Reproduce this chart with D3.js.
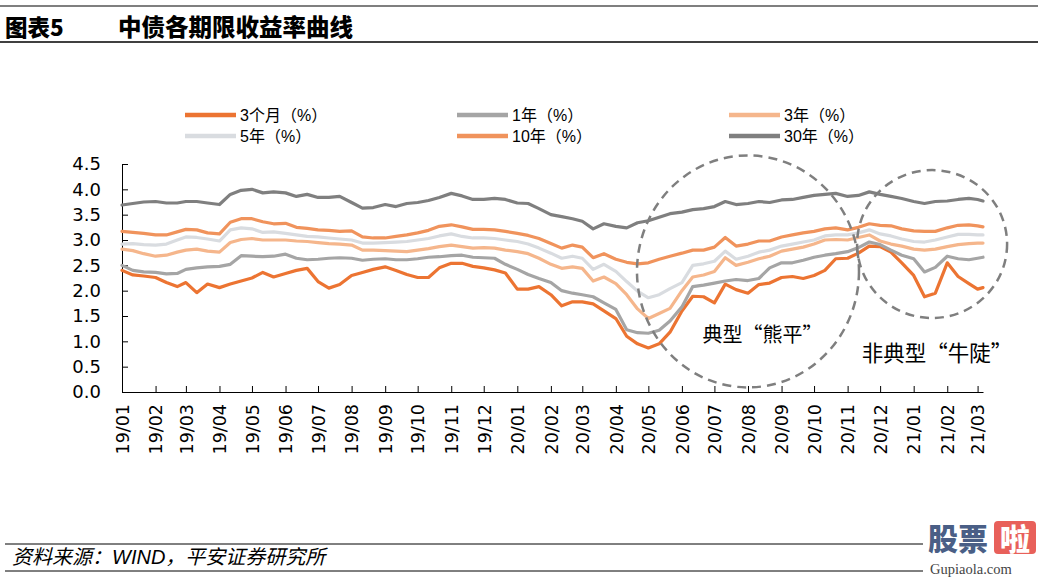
<!DOCTYPE html>
<html><head><meta charset="utf-8">
<script src="https://cdn.jsdelivr.net/npm/d3@7"></script>
<style>body{margin:0;background:#fff}svg{display:block}</style>
</head><body><svg id="c" width="1038" height="578"></svg>
<script>
// ---- data ----
const dates = [
"2019-01-01","2019-01-11","2019-01-21","2019-02-01","2019-02-11","2019-02-21","2019-03-01","2019-03-11","2019-03-21",
"2019-04-01","2019-04-11","2019-04-21","2019-05-01","2019-05-11","2019-05-21","2019-06-01","2019-06-11","2019-06-21",
"2019-07-01","2019-07-11","2019-07-21","2019-08-01","2019-08-11","2019-08-21","2019-09-01","2019-09-11","2019-09-21",
"2019-10-01","2019-10-11","2019-10-21","2019-11-01","2019-11-11","2019-11-21","2019-12-01","2019-12-11","2019-12-21",
"2020-01-01","2020-01-11","2020-01-21","2020-02-01","2020-02-11","2020-02-21","2020-03-01","2020-03-11","2020-03-21",
"2020-04-01","2020-04-11","2020-04-21","2020-05-01","2020-05-11","2020-05-21","2020-06-01","2020-06-11","2020-06-21",
"2020-07-01","2020-07-11","2020-07-21","2020-08-01","2020-08-11","2020-08-21","2020-09-01","2020-09-11","2020-09-21",
"2020-10-01","2020-10-11","2020-10-21","2020-11-01","2020-11-11","2020-11-21","2020-12-01","2020-12-11","2020-12-21",
"2021-01-01","2021-01-11","2021-01-21","2021-02-01","2021-02-11","2021-02-21","2021-03-01","2021-03-06"];

const y3M = [2.40,2.31,2.29, 2.26,2.16,2.08, 2.16,1.96,2.13, 2.06,2.13,2.19, 2.25,2.36,2.27, 2.34,2.40,2.44,
  2.18,2.05,2.12, 2.30,2.36,2.42, 2.47,2.40,2.32, 2.26,2.26,2.45, 2.54,2.54,2.48, 2.45,2.41,2.35,
  2.03,2.03,2.08, 1.92,1.70,1.78, 1.78,1.74,1.60, 1.45,1.10,0.95, 0.87,0.95,1.18, 1.60,1.89,1.88,
  1.76,2.13,2.02, 1.95,2.12,2.15, 2.26,2.28,2.24, 2.30,2.40,2.63, 2.64,2.74,2.88, 2.87,2.76,2.55,
  2.30,1.88,1.95, 2.55,2.28,2.14, 2.03,2.06];
const y1Y = [2.50,2.40,2.37, 2.36,2.33,2.34, 2.42,2.45,2.47, 2.48,2.52,2.69, 2.68,2.67,2.68, 2.72,2.64,2.61,
  2.62,2.64,2.65, 2.64,2.60,2.62, 2.63,2.61,2.61, 2.63,2.66,2.67, 2.69,2.70,2.66, 2.65,2.64,2.52,
  2.42,2.32,2.24, 2.16,2.00,1.95, 1.92,1.88,1.76, 1.63,1.23,1.17, 1.16,1.22,1.40, 1.68,2.08,2.11,
  2.15,2.19,2.22, 2.20,2.24,2.45, 2.55,2.55,2.60, 2.66,2.70,2.73, 2.77,2.85,2.96, 2.91,2.80,2.70,
  2.63,2.37,2.46, 2.68,2.63,2.61, 2.64,2.66];
const y3Y = [2.82,2.79,2.73, 2.68,2.70,2.76, 2.80,2.82,2.78, 2.76,2.95,3.01, 3.03,3.00,3.00, 3.00,2.98,2.97,
  2.95,2.93,2.92, 2.90,2.80,2.80, 2.79,2.78,2.77, 2.80,2.83,2.87, 2.90,2.87,2.84, 2.85,2.84,2.80,
  2.77,2.73,2.64, 2.52,2.44,2.47, 2.44,2.19,2.27, 2.14,1.92,1.64, 1.45,1.55,1.65, 2.00,2.27,2.31,
  2.38,2.65,2.50, 2.56,2.63,2.68, 2.78,2.82,2.86, 2.92,3.00,3.01, 3.00,3.05,3.10, 2.98,2.92,2.88,
  2.82,2.80,2.82, 2.87,2.91,2.93, 2.94,2.94];
const y5Y = [2.92,2.93,2.91, 2.90,2.92,3.00, 3.06,3.05,3.02, 2.98,3.20,3.24, 3.22,3.15,3.16, 3.13,3.10,3.07,
  3.06,3.04,3.02, 3.00,2.94,2.94, 2.95,2.96,2.97, 3.00,3.03,3.08, 3.12,3.07,3.04, 3.04,3.03,3.00,
  2.97,2.92,2.84, 2.74,2.64,2.68, 2.64,2.42,2.52, 2.38,2.18,1.99, 1.86,1.92,2.04, 2.16,2.50,2.53,
  2.58,2.78,2.62, 2.68,2.76,2.80, 2.88,2.92,2.96, 3.00,3.08,3.10, 3.10,3.14,3.20, 3.12,3.08,3.02,
  2.97,2.96,3.00, 3.06,3.11,3.11, 3.10,3.10];
const y10Y = [3.17,3.15,3.13, 3.10,3.10,3.16, 3.21,3.20,3.14, 3.12,3.35,3.42, 3.42,3.36,3.32, 3.33,3.25,3.23,
  3.20,3.19,3.17, 3.18,3.06,3.04, 3.04,3.07,3.10, 3.14,3.19,3.27, 3.30,3.26,3.21, 3.21,3.20,3.17,
  3.13,3.09,3.03, 2.93,2.84,2.90, 2.86,2.65,2.73, 2.62,2.56,2.53, 2.55,2.62,2.68, 2.74,2.80,2.80,
  2.86,3.05,2.88, 2.92,2.98,2.98, 3.06,3.10,3.14, 3.17,3.22,3.24, 3.20,3.25,3.32, 3.29,3.28,3.22,
  3.18,3.17,3.17, 3.24,3.29,3.30, 3.28,3.26];
const y30Y = [3.69,3.72,3.75, 3.76,3.73,3.73, 3.76,3.76,3.73, 3.70,3.90,3.98, 4.00,3.93,3.95, 3.93,3.86,3.90,
  3.84,3.84,3.86, 3.74,3.63,3.64, 3.70,3.66,3.72, 3.74,3.78,3.84, 3.92,3.87,3.80, 3.80,3.82,3.80,
  3.73,3.72,3.62, 3.50,3.46,3.42, 3.37,3.22,3.32, 3.27,3.24,3.34, 3.38,3.45,3.52, 3.55,3.60,3.62,
  3.66,3.76,3.70, 3.72,3.76,3.74, 3.79,3.80,3.84, 3.88,3.90,3.92, 3.86,3.88,3.95, 3.90,3.86,3.82,
  3.76,3.72,3.76, 3.77,3.80,3.82, 3.80,3.77];

const seriesNames = ["3个月（%）","1年（%）","3年（%）","5年（%）","10年（%）","30年（%）"];
const seriesColors = ["#EC7432","#A5A5A5","#F5B68C","#D9DCE0","#F0935C","#7F7F7F"];
const seriesValues = [y3M, y1Y, y3Y, y5Y, y10Y, y30Y];
const yTicks = [0,0.5,1,1.5,2,2.5,3,3.5,4,4.5];
const titleLabel = "图表5";
const titleText = "中债各期限收益率曲线";
const sourceText = "资料来源：WIND，平安证券研究所";
const noteTexts = ["典型“熊平”","非典型“牛陡”"];

// ---- drawing ----
const svg = d3.select("#c");
const parse = d3.timeParse("%Y-%m-%d");
const D = dates.map(parse);
const x = d3.scaleTime().domain([parse("2019-01-01"), parse("2021-03-06")]).range([122, 983]);
const y = d3.scaleLinear().domain([0, 4.5]).range([392, 164]);
const latinCJK = "'Liberation Sans','Noto Sans CJK SC',sans-serif";
const axisFont = "'DejaVu Sans','Noto Sans CJK SC',sans-serif";

// header
svg.append("line").attr("x1",0).attr("x2",1038).attr("y1",6).attr("y2",6).attr("stroke","#000").attr("stroke-width",1.2);
svg.append("line").attr("x1",0).attr("x2",1038).attr("y1",42).attr("y2",42).attr("stroke","#000").attr("stroke-width",1.4);
svg.append("text").attr("x",5).attr("y",26).attr("dominant-baseline","central")
  .attr("font-family","'Noto Sans CJK SC',sans-serif").attr("font-weight",900).attr("font-size",22.5).text(titleLabel);
svg.append("text").attr("x",118).attr("y",26).attr("dominant-baseline","central")
  .attr("font-family","'Noto Sans CJK SC',sans-serif").attr("font-weight",900).attr("font-size",23.5).text(titleText);

// axes
const gx = svg.append("g").attr("transform","translate(0,392)")
  .call(d3.axisBottom(x).ticks(d3.timeMonth.every(1)).tickFormat(d3.timeFormat("%y/%m"))
    .tickSizeInner(-6).tickSizeOuter(0));
gx.selectAll("text").attr("transform","rotate(-90)").attr("x",-12).attr("y",0).attr("dy","0.36em")
  .attr("text-anchor","end").attr("font-family",axisFont).attr("font-size",17.5).attr("fill","#000");
const gy = svg.append("g").attr("transform","translate(122,0)")
  .call(d3.axisLeft(y).tickValues(yTicks).tickFormat(d3.format(".1f")).tickSizeInner(-6).tickSizeOuter(0).tickPadding(21));
gy.selectAll("text").attr("font-family",axisFont).attr("font-size",18).attr("fill","#000");
svg.selectAll(".domain, .tick line").attr("stroke","#000").attr("stroke-width",1);

// series
const line = d3.line().x(d => x(d.date)).y(d => y(d.v));
seriesValues.forEach((vals, i) => {
  const pts = vals.map((v, j) => ({date: D[j], v}));
  svg.append("path").datum(pts).attr("d", line).attr("fill","none")
    .attr("stroke", seriesColors[i]).attr("stroke-width",3.2)
    .attr("stroke-linejoin","round").attr("stroke-linecap","round");
});

// legend
const legCols = [185, 457, 729], legRows = [115, 136];
seriesNames.forEach((name, i) => {
  const cx = legCols[i % 3], cy = legRows[Math.floor(i / 3)];
  svg.append("line").attr("x1",cx).attr("x2",cx+51).attr("y1",cy).attr("y2",cy)
    .attr("stroke",seriesColors[i]).attr("stroke-width",4.5);
  svg.append("text").attr("x",cx+55).attr("y",cy).attr("dominant-baseline","central")
    .attr("font-family",latinCJK).attr("font-size",16).attr("fill","#000").text(name);
});

// annotations
svg.append("ellipse").attr("cx",x(parse("2020-08-01"))).attr("cy",y(2.38)).attr("rx",111).attr("ry",116)
  .attr("fill","none").attr("stroke","#7F7F7F").attr("stroke-width",2.5).attr("stroke-dasharray","9,6");
svg.append("ellipse").attr("cx",x(parse("2021-01-18"))).attr("cy",y(2.92)).attr("rx",75).attr("ry",74)
  .attr("fill","none").attr("stroke","#7F7F7F").attr("stroke-width",2.5).attr("stroke-dasharray","9,6");
svg.append("text").attr("x",x(parse("2020-06-20"))).attr("y",y(1.16)).attr("dominant-baseline","central")
  .attr("font-family","'Noto Sans CJK SC',sans-serif").attr("font-size",20).attr("fill","#000").text(noteTexts[0]);
svg.append("text").attr("x",x(parse("2020-11-14"))).attr("y",y(0.79)).attr("dominant-baseline","central")
  .attr("font-family","'Noto Sans CJK SC',sans-serif").attr("font-size",21.5).attr("fill","#000").text(noteTexts[1]);

// footer
svg.append("line").attr("x1",5).attr("x2",923).attr("y1",544).attr("y2",544).attr("stroke","#000").attr("stroke-width",1);
svg.append("line").attr("x1",5).attr("x2",923).attr("y1",571).attr("y2",571).attr("stroke","#000").attr("stroke-width",1);
svg.append("text").attr("x",12).attr("y",557).attr("dominant-baseline","central")
  .attr("font-family",latinCJK).attr("font-style","italic").attr("font-size",20).attr("fill","#000").text(sourceText);

// watermark
svg.append("text").attr("x",928).attr("y",537).attr("dominant-baseline","central")
  .attr("font-family","'Noto Sans CJK SC',sans-serif").attr("font-weight",900).attr("font-size",30)
  .attr("fill","#4a5f86").text("股票");
svg.append("rect").attr("x",994).attr("y",521).attr("width",42).attr("height",33).attr("rx",4).attr("fill","#e8605a");
svg.append("text").attr("x",1000).attr("y",537).attr("dominant-baseline","central")
  .attr("font-family","'Noto Sans CJK SC',sans-serif").attr("font-weight",900).attr("font-size",30)
  .attr("fill","#fff").text("啦");
svg.append("text").attr("x",930).attr("y",569).attr("dominant-baseline","central")
  .attr("font-family","'Liberation Serif',serif").attr("font-size",14.5).attr("fill","#444").text("Gupiaola.com");
</script></body></html>
